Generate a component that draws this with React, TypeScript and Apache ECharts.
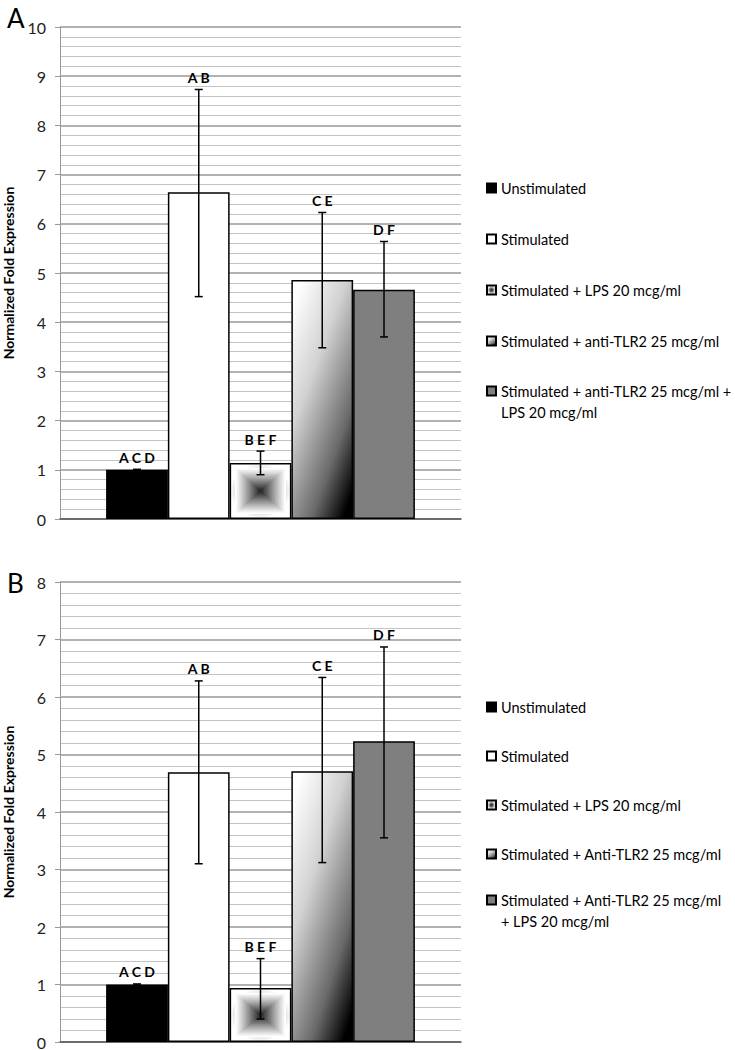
import React, { useEffect, useRef } from "react";
import * as echarts from "echarts";

const namesA = [
  "Unstimulated",
  "Stimulated",
  "Stimulated + LPS 20 mcg/ml",
  "Stimulated + anti-TLR2 25 mcg/ml",
  "Stimulated + anti-TLR2 25 mcg/ml +\nLPS 20 mcg/ml",
];
const namesB = [
  "Unstimulated",
  "Stimulated",
  "Stimulated + LPS 20 mcg/ml",
  "Stimulated + Anti-TLR2 25 mcg/ml",
  "Stimulated + Anti-TLR2 25 mcg/ml\n+ LPS 20 mcg/ml",
];
const valuesA = [1.0, 6.64, 1.14, 4.86, 4.66];
const lowA = [0.99, 4.52, 0.9, 3.48, 3.7];
const highA = [1.01, 8.73, 1.38, 6.23, 5.64];
const sigA = ["A C D", "A B", "B E F", "C E", "D F"];

const valuesB = [1.0, 4.69, 0.94, 4.71, 5.23];
const lowB = [0.99, 3.1, 0.4, 3.12, 3.55];
const highB = [1.01, 6.28, 1.45, 6.34, 6.87];
const sigB = ["A C D", "A B", "B E F", "C E", "D F"];

const CAT_GAP = 0.23;
const FONT = "Lato, 'Open Sans', sans-serif";
const PATTERN_INDEX = 2;
const LH = 21;

const fills: any[] = [
  "#000000",
  "#ffffff",
  {
    type: "radial",
    x: 0.5,
    y: 0.5,
    r: 0.5,
    colorStops: [
      { offset: 0, color: "#222" },
      { offset: 0.3, color: "#555" },
      { offset: 0.7, color: "#ccc" },
      { offset: 1, color: "#fff" },
    ],
  },
  {
    type: "linear",
    x: 0.15,
    y: 0,
    x2: 0.85,
    y2: 1,
    colorStops: [
      { offset: 0, color: "#ffffff" },
      { offset: 0.35, color: "#d2d2d2" },
      { offset: 0.75, color: "#6a6a6a" },
      { offset: 1, color: "#000000" },
    ],
  },
  "#7f7f7f",
];

function panelSeries(
  gi: number,
  names: string[],
  values: number[],
  low: number[],
  high: number[],
  sig: string[]
) {
  const barSeries = names.map((n, i) => ({
    type: "bar",
    name: n,
    xAxisIndex: gi,
    yAxisIndex: gi,
    data: [values[i]],
    barGap: "0%",
    barCategoryGap: CAT_GAP * 100 + "%",
    itemStyle: { color: fills[i], borderColor: "#000", borderWidth: 1.5 },
  }));

  // square "glow" pattern inside the LPS bar, drawn from the bar's own value
  const patternSeries = {
    type: "custom",
    name: "pattern" + gi,
    xAxisIndex: gi,
    yAxisIndex: gi,
    data: [[0, values[PATTERN_INDEX]]],
    encode: { x: 0, y: 1 },
    z: 5,
    silent: true,
    renderItem: (params: any, api: any) => {
      const base = api.coord([0, 0]);
      const top = api.coord([0, api.value(1)]);
      const band = api.size([1, 0])[0];
      const bw = (band * (1 - CAT_GAP)) / 5;
      const cx = base[0] + (PATTERN_INDEX - 2) * bw;
      const cy = (base[1] + top[1]) / 2;
      const hw = bw / 2 - 1.5;
      const hh = (base[1] - top[1]) / 2 - 1.5;
      const n = 18;
      const children: any[] = [];
      for (let k = 0; k < n; k++) {
        const t = k / (n - 1);
        const s = 0.8 * (1 - t) + 0.07;
        const lvl = Math.round(255 - 210 * Math.pow(t, 1.1));
        children.push({
          type: "rect",
          shape: { x: cx - hw * s, y: cy - hh * s, width: 2 * hw * s, height: 2 * hh * s },
          style: { fill: `rgb(${lvl},${lvl},${lvl})` },
        });
      }
      return { type: "group", children };
    },
  };

  const errSeries = {
    type: "custom",
    name: "err" + gi,
    xAxisIndex: gi,
    yAxisIndex: gi,
    data: names.map((_, i) => [0, low[i], high[i], i]),
    encode: { x: 0, y: [1, 2] },
    z: 10,
    renderItem: (params: any, api: any) => {
      const idx = api.value(3);
      const lo = api.coord([0, api.value(1)]);
      const hi = api.coord([0, api.value(2)]);
      const band = api.size([1, 0])[0];
      const bw = (band * (1 - CAT_GAP)) / 5;
      const x = lo[0] + (idx - 2) * bw;
      const cap = 4;
      const st = { stroke: "#000", lineWidth: 1.5 };
      return {
        type: "group",
        children: [
          { type: "line", shape: { x1: x, y1: lo[1], x2: x, y2: hi[1] }, style: st },
          { type: "line", shape: { x1: x - cap, y1: lo[1], x2: x + cap, y2: lo[1] }, style: st },
          { type: "line", shape: { x1: x - cap, y1: hi[1], x2: x + cap, y2: hi[1] }, style: st },
          {
            type: "text",
            x: x,
            y: hi[1] - 5,
            style: {
              text: sig[params.dataIndex],
              fill: "#000",
              font: "bold 14px " + FONT,
              align: "center",
              verticalAlign: "bottom",
            },
          },
        ],
      };
    },
  };
  return [...barSeries, patternSeries, errSeries];
}

const legendBase = {
  orient: "vertical",
  left: 481,
  itemWidth: 9,
  itemHeight: 9,
  icon: "rect",
  selectedMode: false,
  textStyle: { fontSize: 14.5, color: "#000", fontFamily: FONT, lineHeight: LH },
};

function panelLegends(names: string[], c0: number, c1: number, last: number) {
  return [
    { ...legendBase, top: c0 - 5 - LH / 2, itemGap: c1 - c0 - LH, data: names.slice(0, 4) },
    {
      ...legendBase,
      top: last - 5 - (3 * LH) / 2,
      data: [names[4]],
      formatter: (n: string) => "\u00a0\n" + n,
    },
  ];
}

function yAxisFor(gi: number, max: number) {
  return {
    type: "value",
    gridIndex: gi,
    min: 0,
    max: max,
    interval: 1,
    name: "Normalized Fold Expression",
    nameLocation: "middle",
    nameGap: 45,
    nameTextStyle: { fontSize: 14, fontWeight: "bold", color: "#000", fontFamily: FONT },
    axisLine: { show: true, lineStyle: { color: "#999", width: 1 } },
    axisTick: { show: true, length: 5, lineStyle: { color: "#999" } },
    axisLabel: { fontSize: 16, color: "#222", fontFamily: FONT, margin: 14 },
    splitLine: { show: true, lineStyle: { color: "#999", width: 1.5 } },
    minorTick: { show: false, splitNumber: 5 },
    minorSplitLine: { show: true, lineStyle: { color: "#c4c4c4", width: 1.2 } },
  };
}

function xAxisFor(gi: number) {
  return {
    type: "category",
    gridIndex: gi,
    data: [""],
    axisLine: { show: true, lineStyle: { color: "#555", width: 1.5 } },
    axisTick: { show: false },
    axisLabel: { show: false },
  };
}

const titleStyle = { fontSize: 26, fontWeight: "normal", color: "#000", fontFamily: FONT };

export default function App() {
  const ref = useRef<HTMLDivElement>(null);
  useEffect(() => {
    const chart = echarts.init(ref.current!, undefined, { renderer: "svg" });
    const option = {
      animation: false,
      backgroundColor: "#fff",
      title: [
        { text: "A", left: 2, top: 0, textStyle: titleStyle },
        { text: "B", left: 2, top: 565, textStyle: titleStyle },
      ],
      grid: [
        { left: 60, right: 274, top: 27, bottom: 1050 - 519, outerBoundsMode: "none", containLabel: false },
        { left: 60, right: 274, top: 582, bottom: 8, outerBoundsMode: "none", containLabel: false },
      ],
      legend: [
        ...panelLegends(namesA, 188, 239, 391),
        ...panelLegends(namesB, 707, 756, 900),
      ],
      xAxis: [xAxisFor(0), xAxisFor(1)],
      yAxis: [yAxisFor(0, 10), yAxisFor(1, 8)],
      series: [
        ...panelSeries(0, namesA, valuesA, lowA, highA, sigA),
        ...panelSeries(1, namesB, valuesB, lowB, highB, sigB),
      ],
    };
    chart.setOption(option);
    return () => chart.dispose();
  }, []);
  return (
    <div
      ref={ref}
      style={{ position: "absolute", left: 0, top: 0, width: 735, height: 1050, background: "#fff" }}
    />
  );
}
